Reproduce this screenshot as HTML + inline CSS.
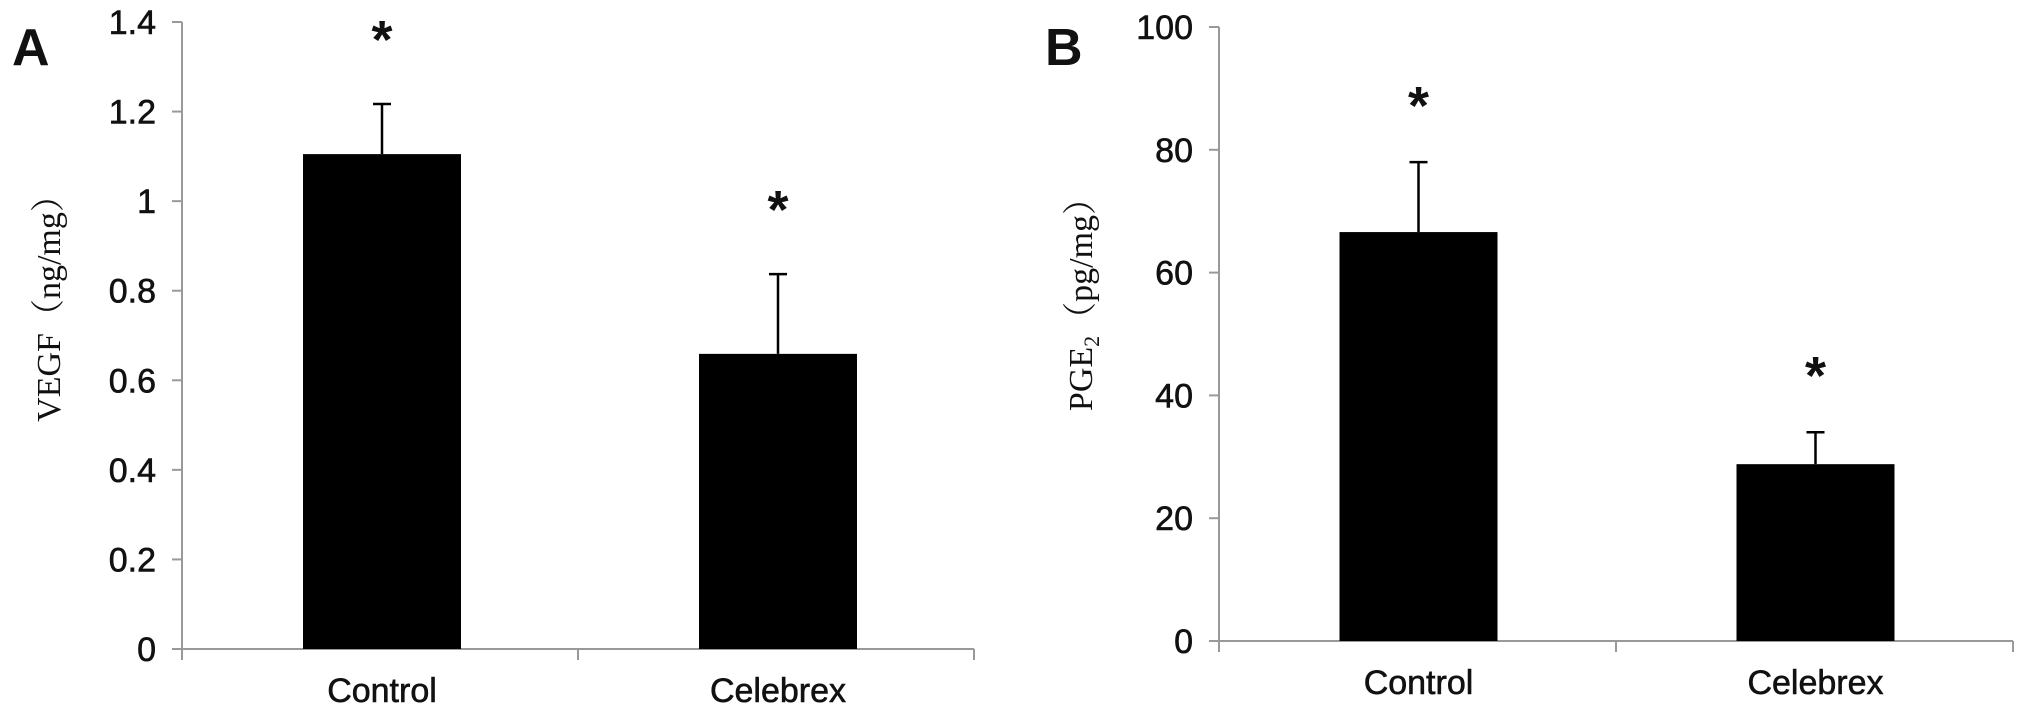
<!DOCTYPE html>
<html><head><meta charset="utf-8"><style>
html,body{margin:0;padding:0;background:#fff;}
svg{display:block;}
text{font-family:"Liberation Sans",sans-serif;fill:#111;}
.serif{font-family:"Liberation Serif","Noto Serif CJK SC",serif;}
.tick{stroke:#111;stroke-width:0.6;}
</style></head><body>
<svg id="chart" width="2031" height="718" viewBox="0 0 2031 718" xmlns="http://www.w3.org/2000/svg"></svg>
<script>
const categories = ["Control","Celebrex"];
const vegfValues = [1.105, 0.659];
const vegfErrors = [0.112, 0.178];
const vegfTicks = ["0","0.2","0.4","0.6","0.8","1","1.2","1.4"];
const pgeValues = [66.6, 28.8];
const pgeErrors = [11.4, 5.2];
const pgeTicks = ["0","20","40","60","80","100"];

const NS="http://www.w3.org/2000/svg";
const svg=document.getElementById('chart');
function mk(tag,attrs,parent,txt){const e=document.createElementNS(NS,tag);for(const k in attrs)e.setAttribute(k,attrs[k]);if(txt!==undefined)e.textContent=txt;(parent||svg).appendChild(e);return e;}

function panel(cfg){
  const g=mk('g',{});
  
  
  const y=v=>cfg.y0-(v-cfg.min)/(cfg.max-cfg.min)*(cfg.y0-cfg.y1);
  const band=(cfg.xEnd-cfg.x0)/categories.length;
  const xc=i=>cfg.x0+band*(i+0.5);
  const ya=mk('line',{x1:cfg.x0,y1:y(cfg.max),x2:cfg.x0,y2:cfg.y0,stroke:'#999','stroke-width':2},g);
  
  
  const xa=mk('line',{x1:cfg.x0-10,y1:cfg.y0,x2:cfg.xEnd,y2:cfg.y0,stroke:'#999','stroke-width':2},g);
  
  
  cfg.ticks.forEach(t=>{
    const v=parseFloat(t);
    const tl=mk('line',{x1:cfg.x0-10,y1:y(v),x2:cfg.x0,y2:y(v),stroke:'#999','stroke-width':2},g);
    
    
    const tx=mk('text',{x:cfg.x0-26,y:y(v)+12,'text-anchor':'end','font-size':34,'class':'tick'},g,t);
    
    
  });
  for(let i=0;i<=categories.length;i++){
    const xt=cfg.x0+band*i;
    const l=mk('line',{x1:xt,y1:cfg.y0,x2:xt,y2:cfg.y0+11,stroke:'#999','stroke-width':2},g);
    
    
  }
  categories.forEach((c,i)=>{
    const bw=158;
    const cx=xc(i)-cfg.shift;
    const top=y(cfg.values[i]);
    const b=mk('rect',{x:cx-bw/2,y:top,width:bw,height:cfg.y0-top,fill:'#000'},g);
    
    
    const et=y(cfg.values[i]+cfg.errors[i]);
    const e1=mk('line',{x1:cx,y1:top,x2:cx,y2:et,stroke:'#000','stroke-width':2.5},g);
    
    
    const e2=mk('line',{x1:cx-9,y1:et,x2:cx+9,y2:et,stroke:'#000','stroke-width':2.5},g);
    
    
    const s=mk('text',{x:cx,y:et-cfg.starGap,'text-anchor':'middle','font-size':54,'font-weight':'bold'},g,'*');
    
    
    const cl=mk('text',{x:cx,y:cfg.y0+53,'text-anchor':'middle','font-size':34,'class':'tick'},g,c);
    
    
  });
  const lab=mk('text',{x:cfg.labelX,y:cfg.labelY,'text-anchor':'middle','font-size':34,'class':'serif',transform:`rotate(-90 ${cfg.labelX} ${cfg.labelY})`},g);
  
  
  lab.innerHTML=cfg.labelHtml;
  const pl=mk('text',{x:cfg.letterX,y:cfg.letterY,'font-size':52,'font-weight':'bold'},g,cfg.letter);
  
  
}

panel({name:'panel-a-vegf',x0:182,xEnd:974,y0:649,y1:22,min:0,max:1.4,values:vegfValues,errors:vegfErrors,ticks:vegfTicks,shift:-2,starGap:46,
  labelX:60,labelY:300,labelHtml:'VEGF（ng/mg）',letter:'A',letterX:12,letterY:65});
panel({name:'panel-b-pge2',x0:1219,xEnd:2013,y0:641,y1:27,min:0,max:100,values:pgeValues,errors:pgeErrors,ticks:pgeTicks,shift:-1,starGap:38,
  labelX:1092,labelY:296,labelHtml:'PGE<tspan font-size="22" dy="7">2</tspan><tspan dy="-7">（pg/mg）</tspan>',letter:'B',letterX:1045,letterY:65});
</script>
</body></html>
